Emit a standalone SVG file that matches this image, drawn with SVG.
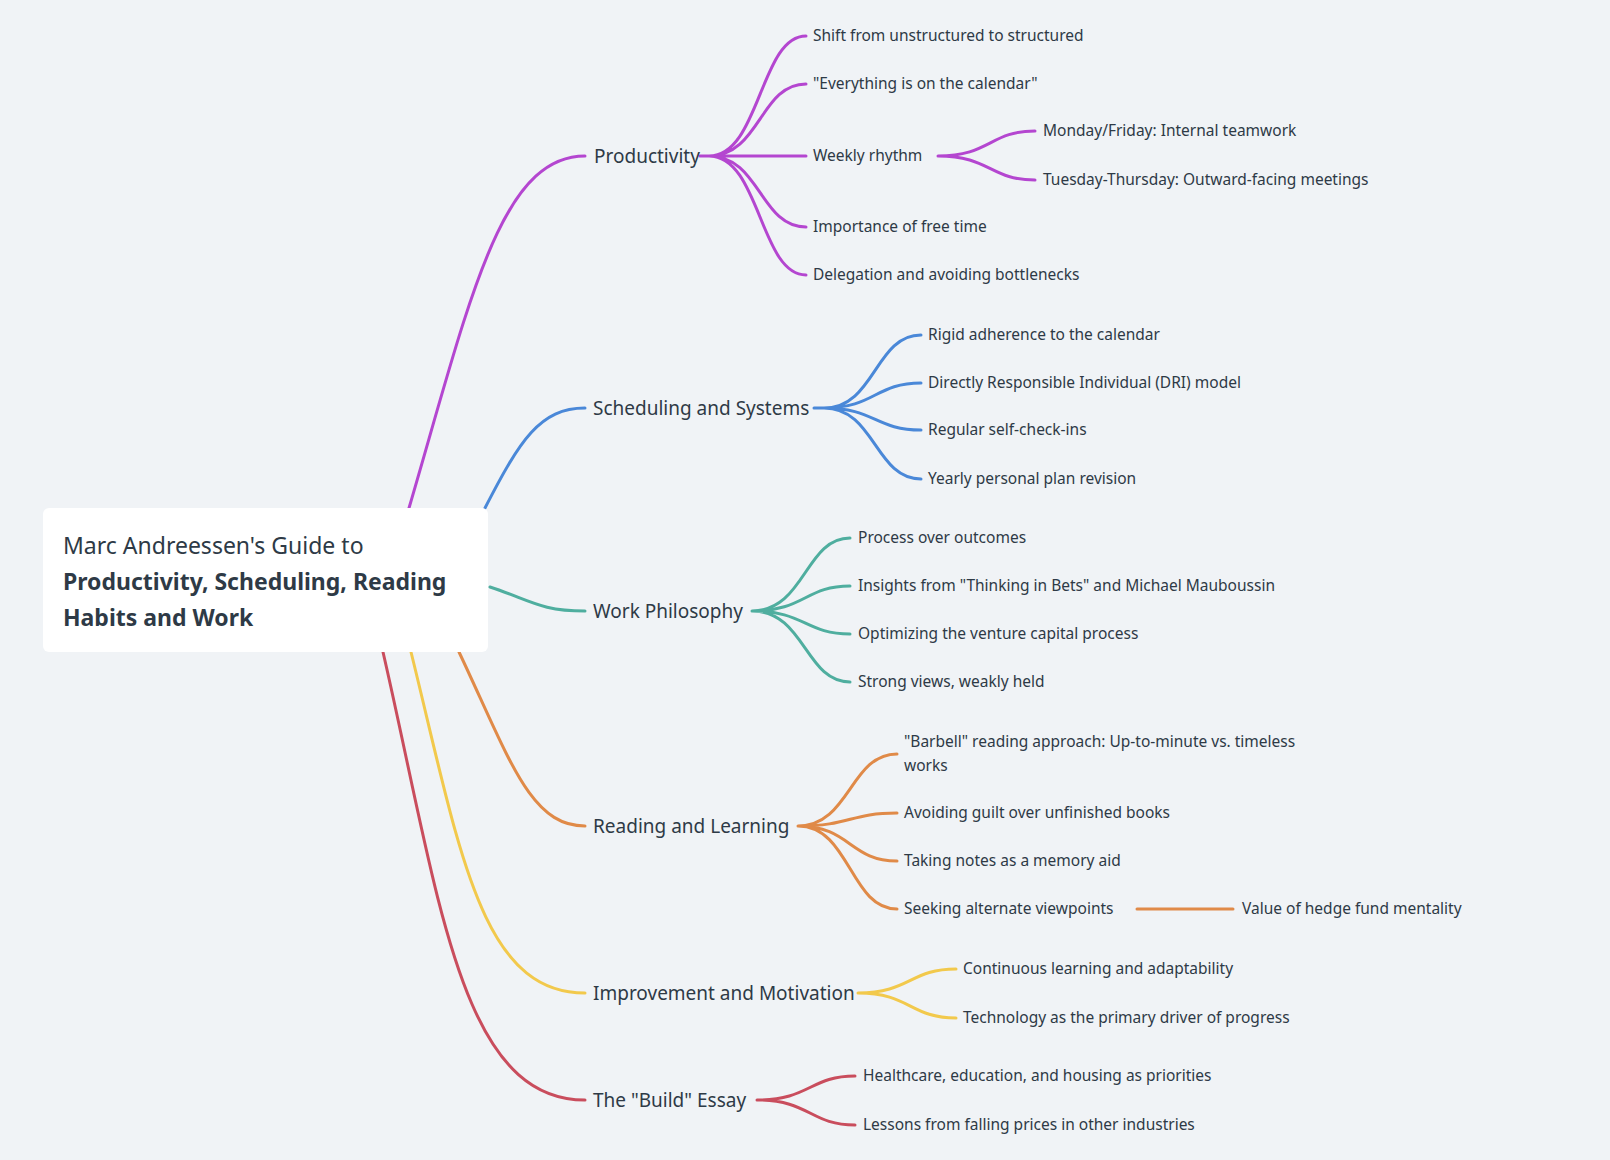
<svg xmlns="http://www.w3.org/2000/svg" width="1610" height="1160" viewBox="0 0 1610 1160">
<style>
text{font-family:"Noto Sans","DejaVu Sans",sans-serif;fill:#2e3a46}
.m{font-size:19px}.c{font-size:15.5px}
path{fill:none;stroke-width:3;stroke-linecap:round}
.p{stroke:#b446d0}.b{stroke:#4a88d8}.t{stroke:#4fae9f}.o{stroke:#e08a48}.y{stroke:#f2c94c}.r{stroke:#c94d5d}
</style>
<rect width="1610" height="1160" fill="#f0f3f6"/>
<g id="connectors">
<path class="p" d="M409 508 C470 300,500 156,585 156"/>
<path class="b" d="M485 508 C520 440,540 408,585 408"/>
<path class="t" d="M490 587 C530 600,540 611,585 611"/>
<path class="o" d="M459 652 C510 760,530 826,585 826"/>
<path class="y" d="M411 652 C460 850,480 993,585 993"/>
<path class="r" d="M383 652 C440 900,460 1100,585 1100"/>
<path class="p" d="M700 156 H709 M709 156 C760 156,760 36,806 36 M709 156 C760 156,760 84,806 84 M709 156 H806 M709 156 C760 156,760 227,806 227 M709 156 C760 156,760 275,806 275"/>
<path class="p" d="M938 156 C990 156,990 131,1035 131 M938 156 C990 156,990 180,1035 180"/>
<path class="b" d="M814 408 H824 M824 408 C875 408,875 335,921 335 M824 408 C875 408,875 383,921 383 M824 408 C875 408,875 430,921 430 M824 408 C875 408,875 479,921 479"/>
<path class="t" d="M752 611 C805 611,805 538,850 538 M752 611 C805 611,805 586,850 586 M752 611 C805 611,805 634,850 634 M752 611 C805 611,805 682,850 682"/>
<path class="o" d="M798 826 C850 826,850 754,897 754 M798 826 C850 826,850 813,897 813 M798 826 C850 826,850 861,897 861 M798 826 C850 826,850 909,897 909"/>
<path class="o" d="M1137 909 H1233"/>
<path class="y" d="M858 993 C910 993,910 969,956 969 M858 993 C910 993,910 1018,956 1018"/>
<path class="r" d="M757 1100 C810 1100,810 1076,855 1076 M757 1100 C810 1100,810 1125,855 1125"/>
</g>
<g id="root">
<rect x="43" y="508" width="445" height="144" rx="6" fill="#fff"/>
<text x="63" y="554" font-size="23">Marc Andreessen's Guide to</text>
<text x="63" y="590" font-size="23" font-weight="bold">Productivity, Scheduling, Reading</text>
<text x="63" y="626" font-size="23" font-weight="bold">Habits and Work</text>
</g>
<g id="productivity"><text class="m" x="594" y="163">Productivity</text></g>
<g id="p1"><text class="c" x="813" y="41">Shift from unstructured to structured</text></g>
<g id="p2"><text class="c" x="813" y="89">"Everything is on the calendar"</text></g>
<g id="p3"><text class="c" x="813" y="161">Weekly rhythm</text></g>
<g id="p3a"><text class="c" x="1043" y="136">Monday/Friday: Internal teamwork</text></g>
<g id="p3b"><text class="c" x="1043" y="185">Tuesday-Thursday: Outward-facing meetings</text></g>
<g id="p4"><text class="c" x="813" y="232">Importance of free time</text></g>
<g id="p5"><text class="c" x="813" y="280">Delegation and avoiding bottlenecks</text></g>
<g id="scheduling"><text class="m" x="593" y="415">Scheduling and Systems</text></g>
<g id="s1"><text class="c" x="928" y="340">Rigid adherence to the calendar</text></g>
<g id="s2"><text class="c" x="928" y="388">Directly Responsible Individual (DRI) model</text></g>
<g id="s3"><text class="c" x="928" y="435">Regular self-check-ins</text></g>
<g id="s4"><text class="c" x="928" y="484">Yearly personal plan revision</text></g>
<g id="work"><text class="m" x="593" y="618">Work Philosophy</text></g>
<g id="w1"><text class="c" x="858" y="543">Process over outcomes</text></g>
<g id="w2"><text class="c" x="858" y="591">Insights from "Thinking in Bets" and Michael Mauboussin</text></g>
<g id="w3"><text class="c" x="858" y="639">Optimizing the venture capital process</text></g>
<g id="w4"><text class="c" x="858" y="687">Strong views, weakly held</text></g>
<g id="reading"><text class="m" x="593" y="833">Reading and Learning</text></g>
<g id="r1"><text class="c" x="904" y="747">"Barbell" reading approach: Up-to-minute vs. timeless</text><text class="c" x="904" y="771">works</text></g>
<g id="r2"><text class="c" x="904" y="818">Avoiding guilt over unfinished books</text></g>
<g id="r3"><text class="c" x="904" y="866">Taking notes as a memory aid</text></g>
<g id="r4"><text class="c" x="904" y="914">Seeking alternate viewpoints</text></g>
<g id="r4a"><text class="c" x="1242" y="914">Value of hedge fund mentality</text></g>
<g id="improvement"><text class="m" x="593" y="1000">Improvement and Motivation</text></g>
<g id="i1"><text class="c" x="963" y="974">Continuous learning and adaptability</text></g>
<g id="i2"><text class="c" x="963" y="1023">Technology as the primary driver of progress</text></g>
<g id="build"><text class="m" x="593" y="1107">The "Build" Essay</text></g>
<g id="b1"><text class="c" x="863" y="1081">Healthcare, education, and housing as priorities</text></g>
<g id="b2"><text class="c" x="863" y="1130">Lessons from falling prices in other industries</text></g>
</svg>
